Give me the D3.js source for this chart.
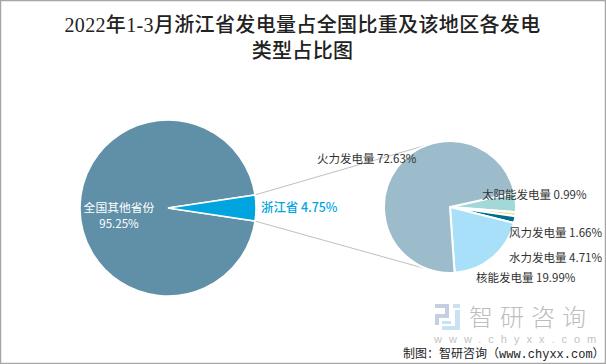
<!DOCTYPE html>
<html lang="zh">
<head>
    <meta charset="UTF-8">
    <title>浙江省发电量占比</title>
    <script src="https://d3js.org/d3.v7.min.js"></script>
    <style>
        html, body { margin: 0; padding: 0; background: #fff; }
        svg { display: block; }
        .cjk { font-family: "Noto Sans CJK SC", sans-serif; }
        .title { font-family: "Liberation Serif", "Noto Sans CJK SC", serif; font-size: 20px; font-weight: 500; fill: #222; letter-spacing: 0.35px; }
    </style>
</head>
<body>
<div id="chart"></div>
<script>
    // Data
    const titleLines = ['2022年1-3月浙江省发电量占全国比重及该地区各发电', '类型占比图'];

    const mainNames = ['全国其他省份', '浙江省'];
    const mainValues = [95.25, 4.75];
    const mainColors = ['#5f90a8', '#00a5e0'];

    const detailNames = ['水力发电量', '太阳能发电量', '风力发电量', '核能发电量', '火力发电量'];
    const detailValues = [4.71, 0.99, 1.66, 19.99, 72.63];
    const detailColors = ['#a2d8d8', '#fbdc9c', '#006d90', '#a8e0fa', '#9dbccb'];

    const width = 606, height = 364;
    const svg = d3.select('#chart').append('svg')
        .attr('width', width)
        .attr('height', height);

    // Frame around the picture
    svg.append('rect')
        .attr('x', 0.5).attr('y', 0.5)
        .attr('width', width - 1).attr('height', height - 1)
        .attr('fill', 'none')
        .attr('stroke', '#a6a6a6')
        .attr('stroke-width', 1.5);

    // Title
    svg.selectAll('text.title')
        .data(titleLines)
        .enter()
        .append('text')
        .attr('class', 'title')
        .attr('x', 302.5)
        .attr('y', (d, i) => 32 + i * 26)
        .attr('text-anchor', 'middle')
        .text(d => d);

    const toRad = Math.PI / 180;
    const mainCenter = [168, 208], mainR = 88;
    const detailCenter = [450, 207], detailR = 66;

    // Left pie starts so that the small slice is centred on 3 o'clock
    const smallAngle = mainValues[1] / 100 * 360;
    const mainStart = (90 + smallAngle / 2) * toRad;
    const mainArcs = d3.pie().sort(null)
        .startAngle(mainStart)
        .endAngle(mainStart + 2 * Math.PI)(mainValues);

    const detailStart = 77.5 * toRad;
    const detailArcs = d3.pie().sort(null)
        .startAngle(detailStart)
        .endAngle(detailStart + 2 * Math.PI)(detailValues);

    // Connector lines go behind the pies
    const polar = (c, r, deg) => [c[0] + r * Math.sin(deg * toRad), c[1] - r * Math.cos(deg * toRad)];
    const connectors = [
        [polar(mainCenter, mainR, 90 - smallAngle / 2), polar(detailCenter, detailR, -17)],
        [polar(mainCenter, mainR, 90 + smallAngle / 2), polar(detailCenter, detailR, 198)]
    ];
    svg.selectAll('line.conn')
        .data(connectors)
        .enter()
        .append('line')
        .attr('x1', d => d[0][0]).attr('y1', d => d[0][1])
        .attr('x2', d => d[1][0]).attr('y2', d => d[1][1])
        .attr('stroke', '#bfbfbf')
        .attr('stroke-width', 1);

    const mainArc = d3.arc().innerRadius(0).outerRadius(mainR);
    svg.append('g')
        .attr('transform', `translate(${mainCenter})`)
        .selectAll('path')
        .data(mainArcs)
        .enter()
        .append('path')
        .attr('d', mainArc)
        .attr('fill', (d, i) => mainColors[i])
        .attr('stroke', '#fff')
        .attr('stroke-width', 1.5);

    const detailArc = d3.arc().innerRadius(0).outerRadius(detailR);
    svg.append('g')
        .attr('transform', `translate(${detailCenter})`)
        .selectAll('path')
        .data(detailArcs)
        .enter()
        .append('path')
        .attr('d', detailArc)
        .attr('fill', (d, i) => detailColors[i])
        .attr('stroke', '#fff')
        .attr('stroke-width', 2);

    const pct = v => v.toFixed(2) + '%';

    function label(x, y, txt, color, anchor, size, weight) {
        svg.append('text')
            .attr('class', 'cjk')
            .attr('x', x).attr('y', y)
            .attr('text-anchor', anchor)
            .attr('font-size', size)
            .attr('font-weight', weight || 400)
            .attr('fill', color)
            .text(txt);
    }
    label(119, 212, mainNames[0], '#fff', 'middle', 11.8);
    label(119, 228, pct(mainValues[0]), '#fff', 'middle', 11.5);
    label(261, 212, mainNames[1] + ' ' + pct(mainValues[1]), '#00a5e0', 'start', 12.4, 500);

    // Right pie labels, placed by hand like in the picture
    const detailLabelPos = [[509, 262], [482, 199], [509, 237], [476, 282], [317, 163]];
    detailNames.forEach((name, i) => {
        label(detailLabelPos[i][0], detailLabelPos[i][1], name + ' ' + pct(detailValues[i]), '#333', 'start', 11.5);
    });

    // Watermark logo
    const logoLeft = svg.append('g').attr('fill', '#c4d0e2');
    [[435, 304, 14, 4], [445, 304, 4, 14], [435, 314, 14, 4], [435, 314, 4, 11]].forEach(r => {
        logoLeft.append('rect').attr('x', r[0]).attr('y', r[1]).attr('width', r[2]).attr('height', r[3]);
    });
    const logoRight = svg.append('g').attr('fill', '#c9e2f3');
    [[453, 304, 7, 4], [455, 310, 5, 20], [442, 326, 18, 4], [442, 321, 9, 3]].forEach(r => {
        logoRight.append('rect').attr('x', r[0]).attr('y', r[1]).attr('width', r[2]).attr('height', r[3]);
    });

    // Watermark text
    svg.append('text').attr('class', 'cjk')
        .attr('x', 469).attr('y', 326)
        .attr('font-size', 24).attr('letter-spacing', 7)
        .attr('font-weight', 300)
        .attr('fill', '#bdbdbd')
        .text('智研咨询');
    svg.append('text')
        .attr('x', 434).attr('y', 343)
        .attr('font-family', 'Liberation Sans, sans-serif')
        .attr('font-size', 11).attr('letter-spacing', 7)
        .attr('fill', '#c4c4c4')
        .text('www.chyxx.com');

    // Source line, full-width colon and brackets
    svg.append('text')
        .attr('x', 403).attr('y', 358)
        .attr('font-family', '"Liberation Mono", "Noto Sans CJK SC", monospace')
        .attr('font-size', 12)
        .attr('fill', '#222')
        .text('制图\uFF1A智研咨询\uFF08www.chyxx.com\uFF09');
</script>
</body>
</html>
